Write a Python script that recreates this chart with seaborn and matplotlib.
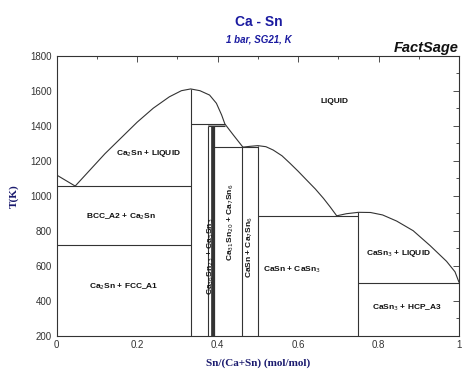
import numpy as np
import pandas as pd
import matplotlib
matplotlib.use("Agg")
import matplotlib.pyplot as plt
import seaborn as sns

# liquidus branches (x = Sn/(Ca+Sn), T in K)
ca_liq_x = [0.0, 0.046]
ca_liq_T = [1118, 1055]
ca2sn_liq_x = [0.046, 0.08, 0.12, 0.16, 0.2, 0.24, 0.28, 0.31, 0.333, 0.356, 0.38, 0.397, 0.41, 0.418, 0.439, 0.463]
ca2sn_liq_T = [1055, 1140, 1240, 1330, 1420, 1500, 1565, 1600, 1610, 1600, 1575, 1528, 1461, 1410, 1347, 1277]
casn_liq_x = [0.4615, 0.48, 0.5, 0.52, 0.538, 0.56, 0.58, 0.6, 0.621, 0.643, 0.663, 0.68, 0.696]
casn_liq_T = [1277, 1282, 1286, 1280, 1261, 1228, 1185, 1140, 1090, 1038, 985, 935, 885]
casn3_liq_x = [0.696, 0.72, 0.75, 0.78, 0.81, 0.845, 0.886, 0.928, 0.969, 0.99, 1.0]
casn3_liq_T = [885, 897, 905, 904, 890, 855, 800, 715, 625, 565, 505]

# invariant lines: T, x start, x end
inv_T = [1055, 718, 1410, 1397, 1277, 885, 499]
inv_x0 = [0.0, 0.0, 0.333, 0.375, 0.392, 0.5, 0.75]
inv_x1 = [0.333, 0.333, 0.418, 0.418, 0.5, 0.75, 1.0]

# compound lines: x, top T
comp_x = [0.333, 0.375, 0.383, 0.3895, 0.392, 0.4615, 0.5, 0.75]
comp_T = [1610, 1397, 1397, 1397, 1397, 1277, 1286, 905]
comp_lw = [0.8, 0.8, 0.6, 1.6, 0.9, 0.8, 0.8, 0.8]

# phase field labels
lab_text = ["LIQUID", "Ca$_2$Sn + LIQUID", "BCC_A2 + Ca$_2$Sn", "Ca$_2$Sn + FCC_A1",
            "CaSn + CaSn$_3$", "CaSn$_3$ + LIQUID", "CaSn$_3$ + HCP_A3"]
lab_x = [0.69, 0.228, 0.161, 0.167, 0.585, 0.849, 0.87]
lab_T = [1540, 1240, 880, 480, 575, 667, 357]

rot_text = ["Ca$_{36}$Sn$_{23}$ + Ca$_5$Sn$_3$", "Ca$_{31}$Sn$_{20}$ + Ca$_7$Sn$_6$", "CaSn + Ca$_7$Sn$_6$"]
rot_x = [0.3825, 0.433, 0.481]
rot_T = [655, 850, 706]

sns.set_style("white")
plt.rcParams['font.family'] = ['Liberation Sans', 'DejaVu Sans']

fig = plt.figure(figsize=(4.74, 3.73), dpi=100)
ax = fig.add_axes([0.1196, 0.1, 0.8488, 0.7507])

lc = '#333333'
for xs, ts in [(ca_liq_x, ca_liq_T), (ca2sn_liq_x, ca2sn_liq_T),
               (casn_liq_x, casn_liq_T), (casn3_liq_x, casn3_liq_T)]:
    df = pd.DataFrame({'x': xs, 'T': ts})
    sns.lineplot(data=df, x='x', y='T', ax=ax, color=lc, lw=0.8, sort=False, estimator=None)

ax.hlines(inv_T, inv_x0, inv_x1, color=lc, lw=0.8)
ax.vlines(comp_x, 200, comp_T, color=lc, lw=comp_lw)
ax.fill_between([0.375, 0.418], 1397, 1410, color='#aaaaaa', lw=0)

for t, x, y in zip(lab_text, lab_x, lab_T):
    ax.text(x, y, t, ha='center', va='center', fontsize=6, fontweight='bold', color='#111111')
for t, x, y in zip(rot_text, rot_x, rot_T):
    ax.text(x, y, t, ha='center', va='center', fontsize=6, fontweight='bold', color='#111111', rotation=90)

ax.set_xlim(0, 1)
ax.set_ylim(200, 1800)
ax.set_xticks(np.arange(0, 1.01, 0.2))
ax.set_xticklabels(['0', '0.2', '0.4', '0.6', '0.8', '1'])
ax.set_xticks(np.arange(0, 1.01, 0.1), minor=True)
ax.set_yticks(np.arange(200, 1801, 200))
ax.set_yticks(np.arange(200, 1801, 100), minor=True)
ax.tick_params(which='both', direction='in', top=True, right=True, colors='#333333',
               labelcolor='#333333', labelsize=7, width=0.6)
ax.tick_params(which='major', length=4)
ax.tick_params(which='minor', length=2)
ax.tick_params(axis='x', pad=3)
for s in ax.spines.values():
    s.set_color('#333333')
    s.set_linewidth(0.8)

ax.set_xlabel('Sn/(Ca+Sn) (mol/mol)', family='Liberation Serif', fontweight='bold',
              fontsize=8, color='#1a1a6e', labelpad=6)
ax.set_ylabel('T(K)', family='Liberation Serif', fontweight='bold', fontsize=8,
              color='#1a1a6e', labelpad=8)

fig.text(0.545, 0.94, 'Ca - Sn', ha='center', va='center', fontsize=10,
         fontweight='bold', color='#1a1aa0')
fig.text(0.545, 0.895, '1 bar, SG21, K', ha='center', va='center', fontsize=7,
         fontweight='bold', style='italic', color='#1a1aa0')
fig.text(0.968, 0.853, 'FactSage', ha='right', va='bottom', fontsize=10.5,
         fontweight='bold', style='italic', color='#111111')

fig.savefig('out.png', dpi=100, facecolor='white')
